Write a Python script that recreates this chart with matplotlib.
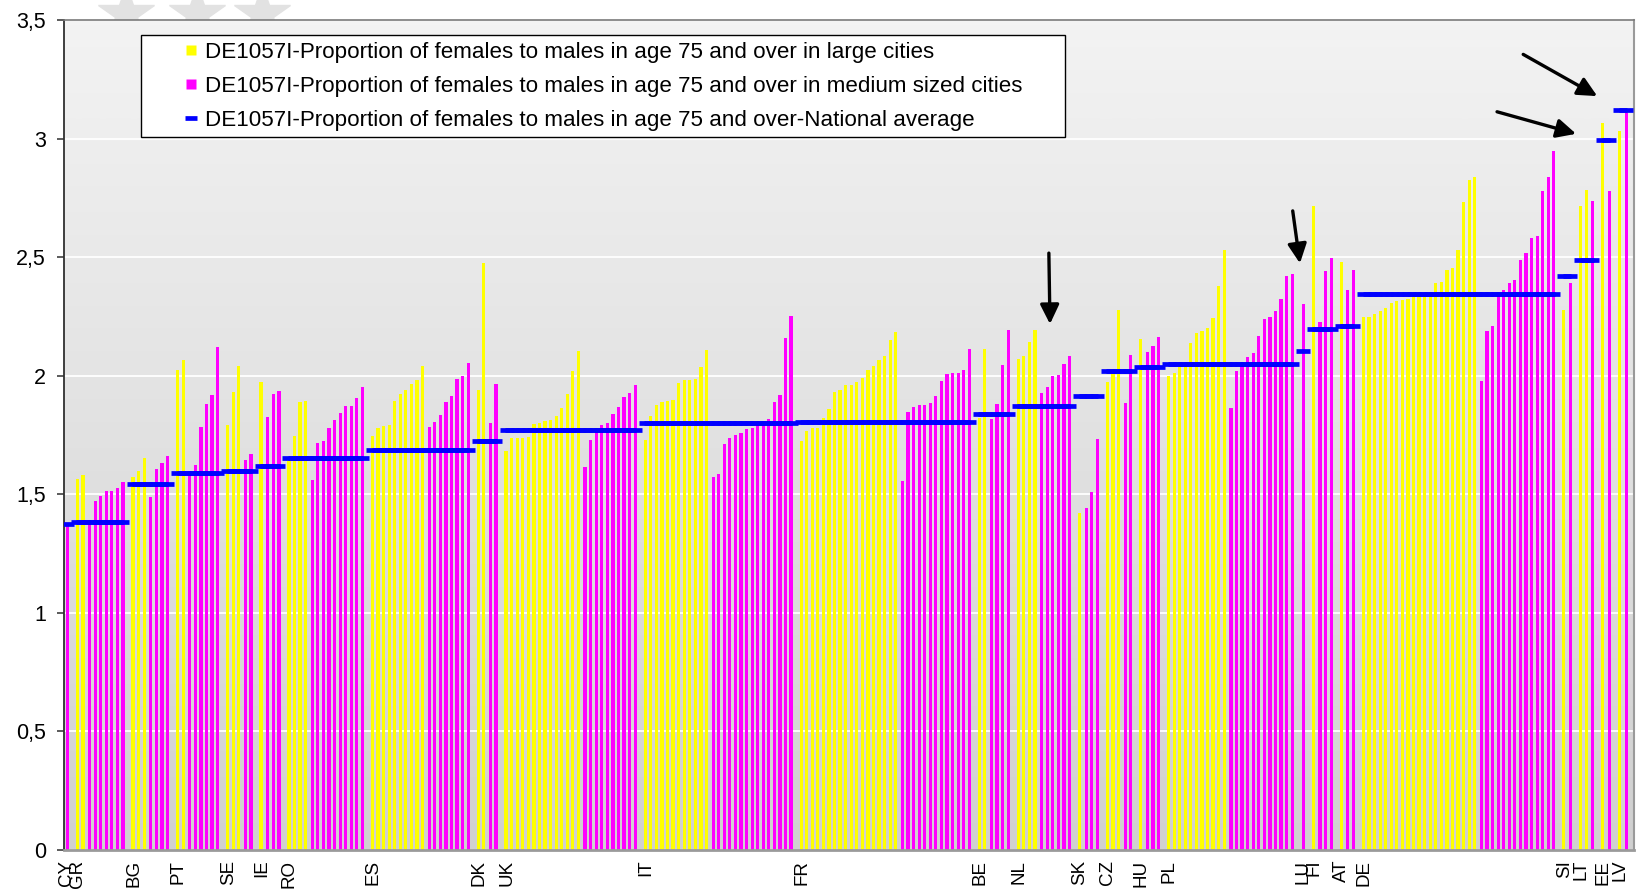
import numpy as np
import matplotlib
matplotlib.use("Agg")
import matplotlib.pyplot as plt
from matplotlib.lines import Line2D
from matplotlib.patches import Rectangle
from matplotlib.colors import LinearSegmentedColormap

plt.rcParams['font.family'] = ['Liberation Sans', 'DejaVu Sans']

countries = ["CY", "GR", "BG", "PT", "SE", "IE", "RO", "ES", "DK", "UK", "IT", "FR", "BE",
             "NL", "SK", "CZ", "HU", "PL", "LU", "FI", "AT", "DE", "SI", "LT", "EE", "LV"]

national_avg = [1.375, 1.385, 1.543, 1.590, 1.598, 1.620, 1.655, 1.686, 1.724, 1.771, 1.801,
                1.806, 1.839, 1.872, 1.916, 2.020, 2.037, 2.050, 2.104, 2.195, 2.209, 2.344,
                2.420, 2.490, 2.993, 3.119]

large_cities = [
    [],
    [1.564, 1.581],
    [1.575, 1.598, 1.654],
    [2.026, 2.066],
    [1.792, 1.931, 2.040],
    [1.974],
    [1.640, 1.745, 1.889, 1.893],
    [1.745, 1.778, 1.788, 1.792, 1.893, 1.925, 1.939, 1.964, 1.981, 2.042],
    [1.939, 2.477],
    [1.682, 1.737, 1.737, 1.737, 1.741, 1.796, 1.800, 1.807, 1.813, 1.830, 1.863, 1.925, 2.018, 2.104],
    [1.731, 1.830, 1.877, 1.889, 1.893, 1.897, 1.969, 1.981, 1.981, 1.985, 2.036, 2.108],
    [1.724, 1.766, 1.779, 1.779, 1.820, 1.859, 1.931, 1.939, 1.961, 1.961, 1.973, 1.990, 2.024,
     2.040, 2.066, 2.083, 2.150, 2.184],
    [1.820, 2.112],
    [2.070, 2.083, 2.142, 2.192],
    [1.419],
    [1.973, 2.009, 2.276],
    [2.153],
    [1.998, 2.010, 2.036, 2.042, 2.137, 2.179, 2.188, 2.200, 2.243, 2.377, 2.529],
    [],
    [2.714],
    [2.478],
    [2.246, 2.246, 2.260, 2.272, 2.285, 2.306, 2.314, 2.318, 2.323, 2.330, 2.345, 2.350, 2.350,
     2.390, 2.394, 2.445, 2.453, 2.529, 2.731, 2.824, 2.836],
    [2.277],
    [2.715, 2.782],
    [3.064],
    [3.031],
]

medium_cities = [
    [1.380],
    [1.380, 1.471, 1.492, 1.514, 1.514, 1.528, 1.552],
    [1.490, 1.607, 1.633, 1.661],
    [1.590, 1.623, 1.785, 1.880, 1.918, 2.120],
    [1.644, 1.670],
    [1.827, 1.922, 1.935],
    [1.560, 1.717, 1.724, 1.779, 1.813, 1.842, 1.871, 1.871, 1.905, 1.952],
    [1.783, 1.804, 1.834, 1.888, 1.913, 1.985, 1.998, 2.053],
    [1.800, 1.964],
    [1.614, 1.728, 1.760, 1.791, 1.800, 1.838, 1.867, 1.910, 1.927, 1.961],
    [1.572, 1.585, 1.711, 1.737, 1.749, 1.758, 1.775, 1.779, 1.788, 1.792, 1.817, 1.888, 1.918,
     2.158, 2.251],
    [1.556, 1.846, 1.867, 1.876, 1.876, 1.884, 1.913, 1.977, 2.006, 2.010, 2.010, 2.024, 2.112],
    [1.817, 1.880, 2.045, 2.192],
    [1.927, 1.952, 1.998, 2.003, 2.049, 2.083],
    [1.441, 1.509, 1.733],
    [1.884, 2.087],
    [2.099, 2.124, 2.162],
    [1.863, 2.019, 2.042, 2.079, 2.095, 2.167, 2.239, 2.247, 2.272, 2.323, 2.420, 2.428],
    [2.302],
    [2.226, 2.441, 2.495],
    [2.360, 2.445],
    [1.977, 2.188, 2.209, 2.331, 2.361, 2.390, 2.403, 2.487, 2.517, 2.580, 2.588, 2.778, 2.837, 2.947],
    [2.390],
    [2.736],
    [2.778],
    [3.106],
]

legend_labels = [
    "DE1057I-Proportion of females to males in age 75 and over in large cities",
    "DE1057I-Proportion of females to males in age 75 and over in medium sized cities",
    "DE1057I-Proportion of females to males in age 75 and over-National average",
]

y_ticks = [0, 0.5, 1, 1.5, 2, 2.5, 3, 3.5]
y_tick_labels = ["0", "0,5", "1", "1,5", "2", "2,5", "3", "3,5"]

# ---- build category positions (one empty slot between countries) ----
xl, yl, xm, ym, xn, yn, tick_pos = [], [], [], [], [], [], []
idx = 0
for c, nat, L, M in zip(countries, national_avg, large_cities, medium_cities):
    tick_pos.append(idx)
    for v in L:
        xl.append(idx); yl.append(v); xn.append(idx); yn.append(nat); idx += 1
    for v in M:
        xm.append(idx); ym.append(v); xn.append(idx); yn.append(nat); idx += 1
    idx += 1
n_slots = idx - 1

W, H = 1639, 893
AX_L, AX_R, AX_T, AX_B = 64, 1634, 20, 850
fig = plt.figure(figsize=(W / 100, H / 100), dpi=100)
fig.patch.set_facecolor('white')

# faint star watermark above the plot
for sx in (126, 197, 262):
    fig.add_artist(Line2D([sx / W], [1 - 14 / H], marker='*', markersize=42,
                          color='#e2e2e2', transform=fig.transFigure, zorder=-5))

ax = fig.add_axes([AX_L / W, 1 - AX_B / H, (AX_R - AX_L) / W, (AX_B - AX_T) / H])
ax.set_zorder(1)


def ax_frac(px, py):
    return (px - AX_L) / (AX_R - AX_L), (AX_B - py) / (AX_B - AX_T)


grad = np.linspace(0, 1, 256).reshape(-1, 1)
cmap = LinearSegmentedColormap.from_list('bg', ['#f3f3f3', '#d0d0d0'])
ax.imshow(grad, cmap=cmap, extent=[0, 1, 0, 1], transform=ax.transAxes,
          aspect='auto', zorder=0, interpolation='bicubic')

bw = 0.58
off = 0.1
ax.bar(np.array(xl) - off, yl, width=bw, color='#ffff00', zorder=2, linewidth=0)
ax.bar(np.array(xm) + off, ym, width=bw, color='#ff00ff', zorder=2, linewidth=0)
ax.plot(xn, yn, linestyle='none', marker='_', markersize=9.6, markeredgewidth=3.4,
        color='#0000ff', zorder=3)

ax.set_xlim(-0.5, n_slots + 0.5)
ax.set_ylim(0, 3.5)
ax.set_yticks(y_ticks)
ax.set_yticklabels(y_tick_labels, fontsize=15.5)
ax.set_xticks(tick_pos)
ax.set_xticklabels(countries, rotation=90, fontsize=13.5)
ax.tick_params(axis='x', length=0, pad=7)
ax.tick_params(axis='y', direction='out', length=5, width=1.2, color='#404040', pad=8)

ax.yaxis.grid(True, color='white', linewidth=1.3, zorder=1)
ax.set_axisbelow(True)

ax.spines['left'].set_color('#303030')
ax.spines['left'].set_linewidth(1.3)
ax.spines['top'].set_color('#7a7a7a')
ax.spines['top'].set_linewidth(1.2)
ax.spines['right'].set_color('#9a9a9a')
ax.spines['right'].set_linewidth(1.5)
ax.spines['bottom'].set_color('#9a9a9a')
ax.spines['bottom'].set_linewidth(2.0)

# arrows
arrows = [((176.4, 2.517), (176.6, 2.218)),
          ((220.2, 2.695), (221.5, 2.474)),
          ((256.9, 3.113), (271.1, 3.020)),
          ((261.6, 3.355), (274.9, 3.179))]
for tail, tip in arrows:
    ax.annotate('', xy=tip, xytext=tail, zorder=5,
                arrowprops=dict(arrowstyle='-|>,head_length=0.45,head_width=0.22',
                                lw=2.4, color='black', shrinkA=0, shrinkB=0,
                                mutation_scale=26))

# legend frame (drawn explicitly to match the reference box size)
fx0, fy0 = ax_frac(141, 137)
fx1, fy1 = ax_frac(1065, 34.5)
ax.add_patch(Rectangle((fx0, fy0), fx1 - fx0, fy1 - fy0, transform=ax.transAxes,
                       facecolor='white', edgecolor='black', linewidth=1.0, zorder=6))

handles = [
    Line2D([], [], linestyle='none', marker='s', markersize=7.5,
           markerfacecolor='#ffff00', markeredgecolor='none'),
    Line2D([], [], linestyle='none', marker='s', markersize=7.5,
           markerfacecolor='#ff00ff', markeredgecolor='none'),
    Line2D([], [], linestyle='none', marker='_', markersize=8.5, markeredgewidth=3.4,
           color='#0000ff'),
]
leg = ax.legend(handles, legend_labels, loc='upper left', bbox_to_anchor=(fx0, fy1),
                borderaxespad=0, fontsize=16.1, frameon=False,
                handlelength=3.81, handletextpad=-1.28,
                labelspacing=0.59, borderpad=0.33, numpoints=1)
leg.set_zorder(7)

fig.savefig('out.png', dpi=100)
